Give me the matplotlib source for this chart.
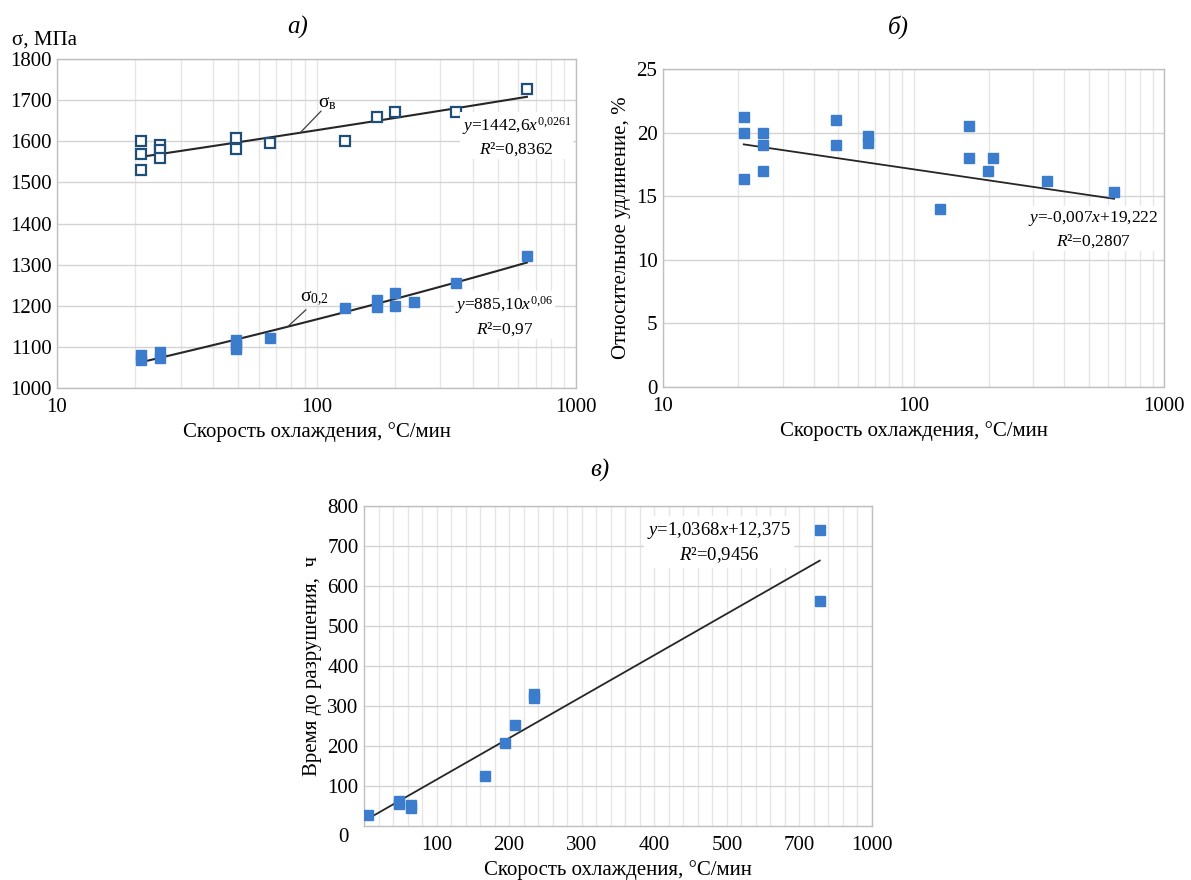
import numpy as np
import matplotlib
matplotlib.use("Agg")
import matplotlib.pyplot as plt
from matplotlib.ticker import FixedLocator, NullFormatter, LogLocator, FixedFormatter

plt.rcParams['font.family'] = ['Liberation Serif', 'DejaVu Serif']
plt.rcParams['mathtext.fontset'] = 'custom'
plt.rcParams['mathtext.rm'] = 'Liberation Serif'
plt.rcParams['mathtext.it'] = 'Liberation Serif:italic'

# ---------------- data ----------------
# panel a: sigma_B (open squares)
a_x_ub = [21, 21, 21, 25, 25, 25, 49, 49, 66, 129, 171, 200, 344, 647]
a_y_ub = [1600, 1570, 1530, 1592, 1578, 1560, 1607, 1582, 1596, 1600, 1660, 1672, 1670, 1728]
# panel a: sigma_0.2 (filled squares)
a_x_02 = [21, 21, 25, 25, 49, 49, 49, 66, 129, 171, 171, 200, 200, 238, 344, 647]
a_y_02 = [1080, 1068, 1088, 1073, 1117, 1105, 1095, 1122, 1195, 1215, 1198, 1232, 1200, 1210, 1255, 1320]
a_ub_coef = (1442.6, 0.0261)
a_02_coef = (885.10, 0.06)

# panel b: elongation
b_x = [21, 21, 21, 25, 25, 25, 49, 49, 66, 66, 127, 167, 167, 198, 208, 340, 632]
b_y = [21.2, 20.0, 16.35, 20.0, 19.0, 17.0, 21.0, 19.0, 19.7, 19.2, 14.0, 20.5, 18.0, 17.0, 18.0, 16.2, 15.3]
b_coef = (-0.007, 19.222)

# panel c: time to failure
c_x = [6, 48, 48, 65, 65, 167, 194, 208, 234, 234, 628, 628]
c_y = [27, 62, 54, 53, 45, 124, 208, 252, 330, 320, 740, 562]
c_coef = (1.0368, 12.375)
c_tick_pos = [100, 200, 300, 400, 500, 600, 700]
c_tick_lab = ["100", "200", "300", "400", "500", "700", "1000"]

BLUE = '#3B7DCC'
DARK = '#1F4E79'
GRID_MAJ = '#D4D4D4'
GRID_MIN = '#E6E6E6'
FRAME = '#BFBFBF'
FS_TICK = 15
FS_LAB = 15

W, H = 1191, 880
fig = plt.figure(figsize=(W / 100, H / 100), dpi=100)


def axes_px(l, t, r, b):
    return fig.add_axes([l / W, 1 - b / H, (r - l) / W, (b - t) / H])


def style(ax):
    for s in ax.spines.values():
        s.set_color(FRAME)
        s.set_linewidth(1.0)
    ax.tick_params(which='both', length=0, labelsize=FS_TICK)
    ax.tick_params(axis='x', pad=7)
    ax.tick_params(axis='y', pad=4)
    ax.set_axisbelow(True)


# ---------------- panel a ----------------
ax = axes_px(57, 59, 576, 388)
style(ax)
ax.set_xscale('log')
ax.set_xlim(10, 1000)
ax.set_ylim(1000, 1800)
ax.set_yticks(np.arange(1000, 1801, 100))
ax.xaxis.set_major_locator(FixedLocator([10, 100, 1000]))
ax.xaxis.set_major_formatter(FixedFormatter(["10", "100", "1000"]))
ax.xaxis.set_minor_locator(LogLocator(base=10, subs=np.arange(2, 10)))
ax.xaxis.set_minor_formatter(NullFormatter())
ax.grid(True, which='major', axis='y', color=GRID_MAJ, lw=1.0)
ax.grid(True, which='both', axis='x', color=GRID_MIN, lw=1.0)

xs = np.geomspace(min(a_x_ub), max(a_x_ub), 50)
ax.plot(xs, a_ub_coef[0] * xs ** a_ub_coef[1], color='#262626', lw=1.5, zorder=2)
xs2 = np.geomspace(min(a_x_02), max(a_x_02), 50)
ax.plot(xs2, a_02_coef[0] * xs2 ** a_02_coef[1], color='#262626', lw=1.5, zorder=2)
ax.plot(a_x_ub, a_y_ub, ls='none', marker='s', ms=7, mfc='white', mec=DARK, mew=1.6, zorder=3)
ax.plot(a_x_02, a_y_02, ls='none', marker='s', ms=7, mfc=BLUE, mec=BLUE, zorder=3)

ax.text(590, 1612, r"$\mathit{y}$=1442,6$\mathit{x}^{0{,}0261}$" + "\n" + r"$\mathit{R}$²=0,8362",
        ha='center', va='center', fontsize=12.5, linespacing=1.25,
        bbox=dict(fc='white', ec='none', pad=1), zorder=4)
ax.text(530, 1175, r"$\mathit{y}$=885,10$\mathit{x}^{0{,}06}$" + "\n" + r"$\mathit{R}$²=0,97",
        ha='center', va='center', fontsize=12.5, linespacing=1.3,
        bbox=dict(fc='white', ec='none', pad=1), zorder=4)
# series labels with leader lines
ax.text(110, 1692, r"σ$_{\rm в}$", ha='center', va='center', fontsize=14)
ax.plot([104, 86.6], [1673, 1621], color='#404040', lw=0.9)
ax.text(98, 1217, r"σ$_{0{,}2}$", ha='center', va='center', fontsize=14)
ax.plot([91, 77.4], [1190, 1149], color='#404040', lw=0.9)
ax.set_xlabel("Скорость охлаждения, °С/мин", fontsize=FS_LAB, labelpad=4)

fig.text(44 / W, 1 - 40 / H, "σ, МПа", ha='center', va='center', fontsize=FS_LAB)
fig.text(298 / W, 1 - 27 / H, "а)", ha='center', va='center', fontsize=18, style='italic')

# ---------------- panel b ----------------
bx = axes_px(663, 69, 1164, 387)
style(bx)
bx.set_xscale('log')
bx.set_xlim(10, 1000)
bx.set_ylim(0, 25)
bx.set_yticks(np.arange(0, 26, 5))
bx.xaxis.set_major_locator(FixedLocator([10, 100, 1000]))
bx.xaxis.set_major_formatter(FixedFormatter(["10", "100", "1000"]))
bx.xaxis.set_minor_locator(LogLocator(base=10, subs=np.arange(2, 10)))
bx.xaxis.set_minor_formatter(NullFormatter())
bx.grid(True, which='major', axis='y', color=GRID_MAJ, lw=1.0)
bx.grid(True, which='both', axis='x', color=GRID_MIN, lw=1.0)
bxs = np.array([min(b_x), max(b_x)])
bx.plot(bxs, b_coef[0] * bxs + b_coef[1], color='#262626', lw=1.3, zorder=2)
bx.plot(b_x, b_y, ls='none', marker='s', ms=7, mfc=BLUE, mec=BLUE, zorder=3)
bx.text(522, 12.4, r"$\mathit{y}$=-0,007$\mathit{x}$+19,222" + "\n" + r"$\mathit{R}$²=0,2807",
        ha='center', va='center', fontsize=12.5, linespacing=1.3,
        bbox=dict(fc='white', ec='none', pad=1), zorder=4)
bx.set_xlabel("Скорость охлаждения, °С/мин", fontsize=FS_LAB, labelpad=4)
bx.set_ylabel("Относительное удлинение, %", fontsize=FS_LAB, labelpad=4)
fig.text(898 / W, 1 - 27 / H, "б)", ha='center', va='center', fontsize=18, style='italic')

# ---------------- panel c ----------------
cx = axes_px(364, 506, 872, 826)
style(cx)
cx.set_xlim(0, 700)
cx.set_ylim(0, 800)
cx.set_yticks(np.arange(100, 801, 100))
cx.xaxis.set_major_locator(FixedLocator(c_tick_pos))
cx.xaxis.set_major_formatter(FixedFormatter(c_tick_lab))
cx.xaxis.set_minor_locator(FixedLocator(np.arange(20, 700, 20)))
cx.yaxis.set_minor_locator(FixedLocator([]))
cx.grid(True, which='major', axis='y', color=GRID_MAJ, lw=1.0)
cx.grid(True, which='both', axis='x', color=GRID_MIN, lw=1.0)
cxs = np.array([min(c_x), max(c_x)])
cx.plot(cxs, c_coef[0] * cxs + c_coef[1], color='#262626', lw=1.3, zorder=2)
cx.plot(c_x, c_y, ls='none', marker='s', ms=7, mfc=BLUE, mec=BLUE, zorder=3)
cx.text(489, 708, r"$\mathit{y}$=1,0368$\mathit{x}$+12,375" + "\n" + r"$\mathit{R}$²=0,9456",
        ha='center', va='center', fontsize=13.5, linespacing=1.3,
        bbox=dict(fc='white', ec='none', pad=2), zorder=4)
cx.text(-0.03, -0.035, "0", transform=cx.transAxes, ha='right', va='center', fontsize=FS_TICK)
cx.set_xlabel("Скорость охлаждения, °С/мин", fontsize=FS_LAB, labelpad=4)
cx.set_ylabel("Время до разрушения,  ч", fontsize=FS_LAB, labelpad=4)
fig.text(600 / W, 1 - 470 / H, "в)", ha='center', va='center', fontsize=18, style='italic')

fig.savefig("out.png", dpi=100)
